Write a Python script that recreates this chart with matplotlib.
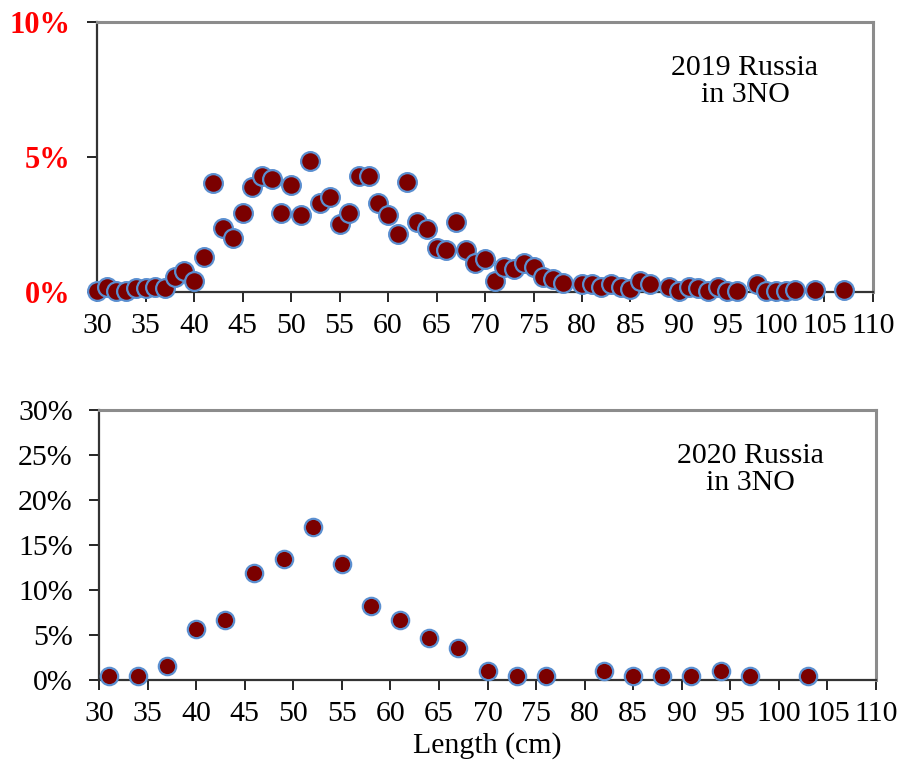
import matplotlib
matplotlib.use("Agg")
import matplotlib.pyplot as plt
from matplotlib.ticker import FuncFormatter, MultipleLocator

plt.rcParams["font.family"] = ["Liberation Serif", "DejaVu Serif"]

# 2019 length composition (%), Russia in 3NO
len_2019 = [30, 31, 32, 33, 34, 35, 36, 37, 38, 39, 40, 41, 42, 43, 44, 45, 46, 47, 48, 49,
            50, 51, 52, 53, 54, 55, 56, 57, 58, 59, 60, 61, 62, 63, 64, 65, 66, 67, 68, 69,
            70, 71, 72, 73, 74, 75, 76, 77, 78, 80, 81, 82, 83, 84, 85, 86, 87, 89, 90, 91,
            92, 93, 94, 95, 96, 98, 99, 100, 101, 102, 104, 107]
pct_2019 = [0.05, 0.20, 0.05, 0.05, 0.14, 0.14, 0.20, 0.14, 0.57, 0.79, 0.42, 1.28, 4.03, 2.36,
            1.99, 2.94, 3.88, 4.30, 4.17, 2.94, 3.95, 2.85, 4.86, 3.28, 3.50, 2.50, 2.94, 4.30,
            4.30, 3.28, 2.85, 2.15, 4.09, 2.58, 2.35, 1.62, 1.56, 2.58, 1.56, 1.06, 1.21, 0.41,
            0.91, 0.84, 1.06, 0.91, 0.54, 0.47, 0.35, 0.28, 0.28, 0.20, 0.28, 0.20, 0.11, 0.42,
            0.28, 0.20, 0.05, 0.20, 0.14, 0.05, 0.20, 0.05, 0.05, 0.28, 0.05, 0.05, 0.05, 0.07,
            0.07, 0.07]

# 2020 length composition (%), Russia in 3NO
len_2020 = [31, 34, 37, 40, 43, 46, 49, 52, 55, 58, 61, 64, 67, 70, 73, 76, 82, 85, 88, 91,
            94, 97, 103]
pct_2020 = [0.48, 0.48, 1.56, 5.67, 6.70, 11.9, 13.4, 17.0, 12.9, 8.26, 6.70, 4.63, 3.59, 1.03,
            0.48, 0.48, 1.03, 0.48, 0.48, 0.48, 1.03, 0.48, 0.48]

x_ticks = list(range(30, 111, 5))

fill = "#7b0000"
edge = "#5b8fd0"
frame = "#8c8c8c"
fs = 21.5

fig = plt.figure(figsize=(9.01, 7.63), dpi=100)
ax1 = fig.add_axes([0.1077, 0.6173, 0.8612, 0.3539])
ax2 = fig.add_axes([0.1099, 0.1088, 0.8624, 0.3538])

pct = FuncFormatter(lambda v, _: f"{v:.0f}%")


def style(ax, ymax, ystep):
    ax.set_xlim(30, 110)
    ax.set_ylim(0, ymax)
    ax.set_xticks(x_ticks)
    ax.yaxis.set_major_locator(MultipleLocator(ystep))
    ax.yaxis.set_major_formatter(pct)
    ax.tick_params(axis="both", direction="out", length=7, width=1.2, labelsize=fs)
    ax.tick_params(axis="x", pad=8)
    ax.tick_params(axis="y", pad=12)
    for side in ("top", "right"):
        ax.spines[side].set_color(frame)
        ax.spines[side].set_linewidth(2.2)
    for side in ("left", "bottom"):
        ax.spines[side].set_color("#333333")
        ax.spines[side].set_linewidth(1.6)


ax1.plot(len_2019, pct_2019, "o", ms=13.5, mfc=fill, mec=edge, mew=1.6, clip_on=False, zorder=3)
style(ax1, 10, 5)
for lab in ax1.get_yticklabels():
    lab.set_color("#ff0000")
    lab.set_fontweight("bold")
    lab.set_fontsize(22)
ax1.text(0.835, 0.778, "2019 Russia\nin 3NO", transform=ax1.transAxes, ha="center",
         va="center", fontsize=fs, linespacing=1.05)

ax2.plot(len_2020, pct_2020, "o", ms=12.5, mfc=fill, mec=edge, mew=1.6, clip_on=False, zorder=3)
style(ax2, 30, 5)
ax2.text(0.838, 0.78, "2020 Russia\nin 3NO", transform=ax2.transAxes, ha="center",
         va="center", fontsize=fs, linespacing=1.05)
ax2.set_xlabel("Length (cm)", fontsize=fs, labelpad=4)

fig.savefig("out.png", dpi=100)
